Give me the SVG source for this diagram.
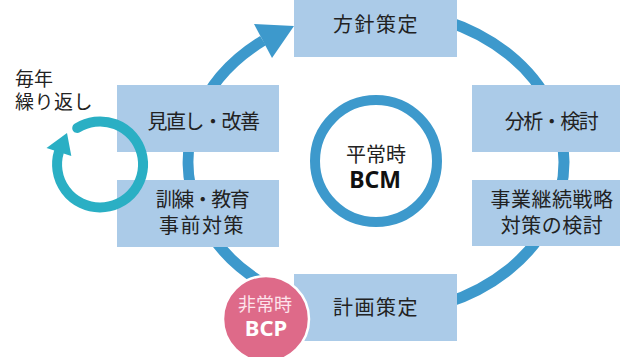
<svg xmlns="http://www.w3.org/2000/svg" width="620" height="357" viewBox="0 0 620 357">
<style>
.box{fill:#abcbe8}
.lbl{font-family:"Noto Sans CJK JP","Noto Sans",sans-serif;font-size:20px;fill:#222;text-anchor:middle}
.ring{fill:none;stroke:#3d99cc;stroke-width:11}
.big{font-family:"Noto Sans","Noto Sans CJK JP",sans-serif;font-weight:bold;text-anchor:middle}
</style>
<rect width="620" height="357" fill="#fff"/>
<g id="connectors">
  <path class="ring" d="M263,40.6 A188,152 0 0 0 376,314 A188,152 0 0 0 376,10"/>
  <polygon points="254,24 294,26 272,58" fill="#3d99cc"/>
</g>
<g id="label-yearly">
  <text class="lbl" style="text-anchor:start;font-size:19px" x="15" y="86">毎年</text>
  <text class="lbl" style="text-anchor:start;font-size:19px;letter-spacing:0.5px" x="15" y="109">繰り返し</text>
</g>
<g id="node-houshin">
  <rect class="box" x="294" y="0" width="163" height="57"/>
  <text class="lbl" x="376" y="32" letter-spacing="1.5">方針策定</text>
</g>
<g id="node-bunseki">
  <rect class="box" x="472" y="85" width="148" height="67"/>
  <text class="lbl" x="551" y="129" letter-spacing="-1.5">分析・検討</text>
</g>
<g id="node-senryaku">
  <rect class="box" x="472" y="180" width="148" height="66"/>
  <text class="lbl" x="552" y="207" letter-spacing="0.5">事業継続戦略</text>
  <text class="lbl" x="552" y="233" letter-spacing="0.5">対策の検討</text>
</g>
<g id="node-keikaku">
  <rect class="box" x="294" y="274" width="163" height="67"/>
  <text class="lbl" x="376" y="315" letter-spacing="1.5">計画策定</text>
</g>
<g id="node-minaoshi">
  <rect class="box" x="117" y="85" width="162" height="67"/>
  <text class="lbl" x="203" y="129" letter-spacing="-1.5">見直し・改善</text>
</g>
<g id="node-kunren">
  <rect class="box" x="117" y="180" width="162" height="67"/>
  <text class="lbl" x="202" y="207" letter-spacing="-1.5">訓練・教育</text>
  <text class="lbl" x="202" y="233" letter-spacing="1.5">事前対策</text>
</g>
<g id="node-bcm">
  <circle cx="376" cy="161" r="61" fill="#fff" stroke="#3d99cc" stroke-width="10"/>
  <text class="lbl" x="376" y="161.5">平常時</text>
  <text class="big" x="375" y="188" font-size="23" fill="#111">BCM</text>
</g>
<g id="node-bcp">
  <circle cx="266" cy="319" r="43" fill="#de6a89" stroke="#fff" stroke-width="2.5"/>
  <text class="lbl" x="265" y="311" style="font-size:18px;fill:#fde4ec">非常時</text>
  <text class="big" x="266" y="336" font-size="22" fill="#fff">BCP</text>
</g>
<g id="cycle-arrow">
  <path d="M77.2,128 A43,43 0 1 1 58.9,152" fill="none" stroke="#2aafc4" stroke-width="10" stroke-linecap="round"/>
  <polygon points="46.5,148 71.3,156 67,133" fill="#2aafc4"/>
</g>
</svg>
